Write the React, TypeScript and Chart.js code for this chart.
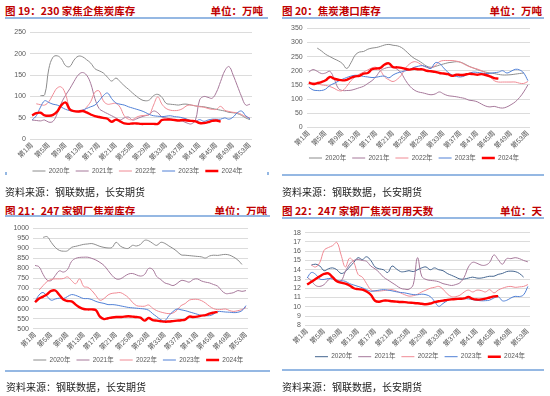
import React, { useEffect, useRef } from 'react';
import { Chart, registerables } from 'chart.js';
Chart.register(...registerables);

const weeks = ['第1周','第2周','第3周','第4周','第5周','第6周','第7周','第8周','第9周','第10周','第11周','第12周','第13周','第14周','第15周','第16周','第17周','第18周','第19周','第20周','第21周','第22周','第23周','第24周','第25周','第26周','第27周','第28周','第29周','第30周','第31周','第32周','第33周','第34周','第35周','第36周','第37周','第38周','第39周','第40周','第41周','第42周','第43周','第44周','第45周','第46周','第47周','第48周','第49周','第50周','第51周','第52周','第53周'];
const shownWeeks = ['第1周','第5周','第9周','第13周','第17周','第21周','第25周','第29周','第33周','第37周','第41周','第45周','第49周','第53周'];
const years = ['2020年','2021年','2022年','2023年','2024年'];

// 图19 230家焦企焦炭库存
const c1_2020 = [null,null,102,104,165,192,195,188,172,170,185,194,193,186,178,165,160,155,145,136,143,135,125,117,108,100,93,90,92,102,105,98,84,82,81,80,82,82,80,78,77,76,74,72,70,68,66,63,62,60,56,50,46];
const c1_2021 = [45,44,43,45,40,42,60,85,103,118,135,150,156,150,130,95,72,65,60,55,50,45,50,52,45,48,52,55,58,66,62,52,50,48,46,44,42,38,36,45,92,100,98,96,110,135,160,170,150,125,100,80,82];
const c1_2022 = [null,83,81,80,88,105,120,122,105,72,65,64,65,75,88,110,113,90,82,83,84,75,55,47,46,52,55,56,58,80,99,82,72,68,67,68,72,79,80,78,76,75,72,70,70,77,68,65,63,62,58,53,50];
const c1_2023 = [45,55,75,90,86,82,80,75,70,67,65,65,68,72,76,80,90,102,108,95,85,82,80,76,73,70,67,63,58,55,54,53,54,55,53,52,50,47,43,42,46,42,45,47,47,47,50,47,52,62,66,55,48];
const c1_2024 = [56,61,62,56,55,57,65,80,86,70,66,65,66,63,58,54,52,50,48,41,46,42,37,36,37,37,36,36,36,36,36,45,46,46,45,44,45,44,43,42,38,38,40,43,44,41];

// 图20 焦炭港口库存
const c2_2020 = [null,null,280,270,258,250,242,235,225,208,228,255,266,268,276,280,282,286,291,293,290,288,282,270,256,244,236,226,216,212,215,220,224,228,230,232,230,224,216,210,204,199,195,192,190,187,185,185,186,188,190,192,null];
const c2_2021 = [195,204,198,190,192,198,172,138,130,130,131,135,140,145,155,165,180,200,208,212,212,205,190,165,145,132,125,122,118,115,118,125,118,112,110,108,105,102,96,94,90,82,75,72,74,70,68,72,80,90,105,125,150];
const c2_2022 = [160,157,154,150,148,144,138,130,130,145,165,178,188,195,203,210,212,200,178,168,162,170,185,210,225,232,228,218,212,210,218,232,236,236,236,234,230,222,215,210,206,200,192,180,165,160,160,160,160,160,156,155,162];
const c2_2023 = [142,132,130,130,135,148,155,163,170,176,181,184,183,180,178,176,177,180,181,175,185,192,196,200,205,212,216,218,213,208,228,226,210,195,185,180,178,182,190,195,194,192,190,191,193,195,200,192,198,205,203,192,165];
const c2_2024 = [158,153,156,160,166,178,172,168,166,168,175,180,182,190,192,205,208,210,222,226,213,212,210,206,204,207,205,205,200,198,196,192,190,188,182,186,185,186,189,188,186,188,185,180,174,172];

// 图21 247家钢厂焦炭库存
const c3_2020 = [null,null,955,958,930,905,890,886,888,905,910,915,920,922,924,918,910,905,902,905,930,912,902,900,915,912,920,940,938,925,915,930,925,912,900,885,868,866,864,862,860,858,852,862,866,865,868,870,866,856,842,820,null];
const c3_2021 = [815,808,770,742,740,765,788,782,795,835,850,855,856,856,850,842,830,815,790,765,748,748,760,772,775,768,762,770,800,795,760,745,728,722,715,725,740,738,732,745,748,738,732,728,720,712,690,675,676,680,690,686,690];
const c3_2022 = [null,692,715,735,745,748,748,750,758,740,724,748,710,706,690,665,642,650,668,676,678,680,670,655,632,615,612,612,618,602,590,583,578,575,578,592,615,625,642,646,646,640,628,612,600,595,596,598,590,586,590,595,606];
const c3_2023 = [635,668,680,660,642,648,652,650,660,670,666,658,650,650,645,636,630,626,620,620,618,614,610,606,604,602,600,598,592,575,560,545,540,565,585,598,594,590,584,578,572,566,565,565,572,585,585,583,582,580,582,590,615];
const c3_2024 = [632,650,660,672,688,690,668,645,638,636,620,606,598,596,596,592,560,548,552,556,558,558,560,562,560,558,555,540,553,543,540,537,535,536,538,540,542,545,560,558,560,565,568,575,580,584];

// 图22 247家钢厂焦炭可用天数
const c4_2020 = [null,14.5,14.6,14.4,13.9,14.1,14.2,14.0,13.6,13.8,14.3,14.8,15.3,15.1,15.4,15.0,14.3,14.1,14.0,13.7,14.4,14.1,13.8,13.8,13.9,13.8,14.0,14.2,14.3,14.0,14.2,14.0,13.9,13.6,13.4,13.2,13.0,13.0,13.1,13.2,13.1,13.1,13.2,13.3,13.3,13.5,13.6,13.8,13.85,13.8,13.6,13.2,null];
const c4_2021 = [13.2,12.8,12.3,12.2,12.4,12.9,13.2,12.9,12.8,13.8,14.6,15.0,15.1,15.0,14.9,14.4,14.1,13.7,13.2,12.9,12.6,12.3,12.0,11.9,11.9,12.4,15.3,13.3,12.95,12.85,12.8,12.7,12.5,12.4,12.3,12.4,12.6,13.2,14.3,14.8,14.7,14.5,14.5,14.8,15.6,15.1,14.6,15.2,15.2,15.3,15.2,15.0,14.85];
const c4_2022 = [null,14.5,14.3,14.8,16.1,16.4,16.6,16.95,15.6,14.3,15.25,14.8,13.5,13.2,12.5,11.85,11.7,11.7,11.75,11.8,11.85,11.7,11.5,11.3,11.15,11.2,11.35,11.6,11.8,12.0,12.1,12.2,11.9,11.4,11.1,11.1,11.25,11.6,11.8,11.6,11.8,11.75,11.6,11.85,11.5,11.8,12.0,12.15,12.2,12.1,12.15,12.2,12.4];
const c4_2023 = [13.1,13.7,13.5,13.0,12.95,13.05,13.0,12.75,12.8,12.75,12.5,12.35,12.2,12.05,11.85,11.68,11.72,11.8,11.85,11.8,11.72,11.62,11.55,11.5,11.4,11.32,11.3,11.36,11.3,11.1,10.6,10.05,10.35,10.65,10.85,10.88,10.88,10.88,10.85,10.77,10.7,10.65,10.66,10.72,10.95,11.1,10.65,10.7,10.95,11.13,11.1,11.3,12.2];
const c4_2024 = [12.4,12.7,13.0,13.3,13.55,13.6,13.2,12.75,12.6,12.5,12.3,12.0,11.9,11.85,11.65,11.3,10.65,10.55,10.66,10.66,10.6,10.56,10.52,10.5,10.45,10.42,10.38,10.32,10.28,10.35,10.5,10.6,10.66,10.74,10.8,10.84,10.86,10.9,11.05,10.85,10.78,10.8,10.88,11.0,11.12,11.15];

const COL_GRAY = '#8c8c8c';
const COL_SLATE = '#44658f';
const COL_MAUVE = '#a6789a';
const COL_PINK = '#f08a94';
const COL_BLUE = '#5080d6';
const COL_RED = '#ff0000';

const TICK_FONT = "'Liberation Sans','Noto Sans CJK SC',sans-serif";
const CJK = "'Noto Sans CJK SC','Liberation Sans',sans-serif";

type Spec = {
  cx: number; cy: number; w: number; h: number;
  areaL: number; areaR: number; areaT: number; areaB: number;
  legendY: number; legendCX: number;
  min: number; max: number; step: number;
  series: (number | null)[][];
  colors: string[];
};

function LineChart({ s }: { s: Spec }) {
  const ref = useRef<HTMLCanvasElement>(null);
  useEffect(() => {
    const F = 6.5, P = 6;
    const legendTop = s.legendY - P - F / 2;
    const legendH = F + P + 10;
    const padBottom = s.cy + s.h - (legendTop + legendH);
    const dx = s.legendCX - (s.cx + s.areaR) / 2;
    const shiftLegend = {
      id: 'shiftLegend',
      afterLayout(chart: any) {
        const lg = chart.legend;
        if (lg) { lg.left += dx; lg.right += dx; }
      },
    };
    const chart = new Chart(ref.current as HTMLCanvasElement, {
      type: 'line',
      data: {
        labels: weeks,
        datasets: s.series.map((d, i) => ({
          label: years[i],
          data: d,
          borderColor: s.colors[i],
          backgroundColor: s.colors[i],
          borderWidth: i === 4 ? 2.4 : 1,
          pointRadius: 0,
          tension: 0.4,
          fill: false,
          order: 5 - i,
        })),
      },
      options: {
        responsive: false,
        animation: false,
        maintainAspectRatio: false,
        layout: { padding: { left: 0, right: s.cx + s.w - s.areaR, top: s.areaT - s.cy, bottom: padBottom } },
        plugins: {
          legend: {
            position: 'bottom',
            labels: {
              usePointStyle: true,
              pointStyle: 'line',
              pointStyleWidth: 13,
              boxHeight: F,
              padding: P,
              color: '#595959',
              font: { size: F, family: TICK_FONT },
              sort: (a: any, b: any) => a.datasetIndex - b.datasetIndex,
            },
          },
          tooltip: { enabled: false },
        },
        scales: {
          x: {
            offset: true,
            grid: { display: false, drawTicks: false },
            border: { display: false },
            ticks: {
              autoSkip: false,
              maxRotation: 45,
              minRotation: 45,
              padding: 2,
              color: '#595959',
              font: { size: 7, family: TICK_FONT },
              callback: (_v: any, i: number) => (shownWeeks.includes(weeks[i]) ? weeks[i] : ''),
            },
            afterFit: (sc: any) => { sc.height = legendTop - s.areaB; },
          },
          y: {
            min: s.min,
            max: s.max,
            ticks: {
              stepSize: s.step,
              autoSkip: false,
              padding: 4,
              color: '#595959',
              font: { size: 7, family: TICK_FONT },
              callback: (v: any) => String(v),
            },
            grid: { color: '#dcdcdc', drawTicks: false, lineWidth: 1 },
            border: { display: false },
            afterFit: (sc: any) => { sc.width = s.areaL - s.cx; },
          },
        },
      } as any,
      plugins: [shiftLegend],
    });
    return () => chart.destroy();
  }, []);
  return (
    <canvas
      ref={ref}
      width={s.w}
      height={s.h}
      style={{ position: 'absolute', left: s.cx, top: s.cy, width: s.w, height: s.h }}
    />
  );
}

const specs: Spec[] = [
  { cx: 0, cy: 22, w: 272, h: 164, areaL: 30, areaR: 252, areaT: 32.3, areaB: 139.3, legendY: 171, legendCX: 137.5,
    min: 0, max: 250, step: 50, series: [c1_2020, c1_2021, c1_2022, c1_2023, c1_2024],
    colors: [COL_GRAY, COL_MAUVE, COL_PINK, COL_BLUE, COL_RED] },
  { cx: 275, cy: 18, w: 272, h: 155, areaL: 306.7, areaR: 530, areaT: 28.3, areaB: 127.3, legendY: 158, legendCX: 414,
    min: 0, max: 350, step: 50, series: [c2_2020, c2_2021, c2_2022, c2_2023, c2_2024],
    colors: [COL_GRAY, COL_MAUVE, COL_PINK, COL_BLUE, COL_RED] },
  { cx: 0, cy: 218, w: 272, h: 157, areaL: 33, areaR: 248, areaT: 228.3, areaB: 328.7, legendY: 360, legendCX: 138.3,
    min: 500, max: 1000, step: 50, series: [c3_2020, c3_2021, c3_2022, c3_2023, c3_2024],
    colors: [COL_GRAY, COL_MAUVE, COL_PINK, COL_BLUE, COL_RED] },
  { cx: 275, cy: 222, w: 272, h: 150, areaL: 305, areaR: 530, areaT: 232.7, areaB: 325.3, legendY: 356.7, legendCX: 420,
    min: 8, max: 18, step: 1, series: [c4_2020, c4_2021, c4_2022, c4_2023, c4_2024],
    colors: [COL_SLATE, COL_MAUVE, COL_PINK, COL_BLUE, COL_RED] },
];

const titles = [
  { text: '图 19：230 家焦企焦炭库存', unit: '单位：万吨', x: 5, right: 263, y: 10 },
  { text: '图 20：焦炭港口库存', unit: '单位：万吨', x: 282, right: 542, y: 10 },
  { text: '图 21：247 家钢厂焦炭库存', unit: '单位：万吨', x: 5, right: 267, y: 210 },
  { text: '图 22：247 家钢厂焦炭可用天数', unit: '单位：天', x: 282, right: 542, y: 210 },
];

const rules = [
  { x1: 5, x2: 268, y: 18 }, { x1: 282, x2: 544, y: 18 },
  { x1: 5, x2: 270, y: 216 }, { x1: 282, x2: 544, y: 218 },
  { x1: 282, x2: 544, y: 174.5 }, { x1: 5, x2: 270, y: 370.5 }, { x1: 282, x2: 544, y: 369.5 },
];

const sources = [
  { x: 5, y: 191 }, { x: 282, y: 191 }, { x: 6, y: 386.7 }, { x: 282, y: 386.7 },
];

export default function App() {
  return (
    <div style={{ position: 'absolute', left: 0, top: 0, width: 550, height: 396, background: '#fff', overflow: 'hidden' }}>
      {specs.map((s, i) => <LineChart key={i} s={s} />)}
      {titles.map((t, i) => (
        <React.Fragment key={i}>
          <div style={{ position: 'absolute', left: t.x, top: t.y - 6.5, font: `bold 10.5px ${CJK}`, lineHeight: '13px', color: '#c00000', whiteSpace: 'nowrap' }}>{t.text}</div>
          <div style={{ position: 'absolute', right: 550 - t.right, top: t.y - 6.5, font: `bold 10.5px ${CJK}`, lineHeight: '13px', color: '#c00000', whiteSpace: 'nowrap' }}>{t.unit}</div>
        </React.Fragment>
      ))}
      {rules.map((r, i) => (
        <div key={i} style={{ position: 'absolute', left: r.x1, top: r.y - 1, width: r.x2 - r.x1, height: 2, background: '#95b8e3' }} />
      ))}
      <div style={{ position: 'absolute', left: 5, top: 172, width: 1.5, height: 3, background: '#95b8e3' }} />
      <div style={{ position: 'absolute', left: 267, top: 172, width: 1.5, height: 3, background: '#95b8e3' }} />
      {sources.map((p, i) => (
        <div key={i} style={{ position: 'absolute', left: p.x, top: p.y - 6.5, font: `10px ${CJK}`, lineHeight: '13px', color: '#222', whiteSpace: 'nowrap' }}>资料来源：钢联数据，长安期货</div>
      ))}
    </div>
  );
}
